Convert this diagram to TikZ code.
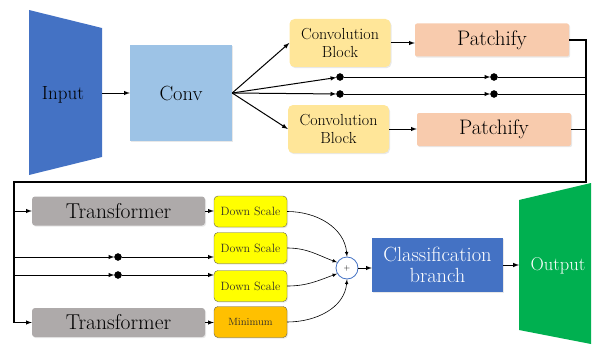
\documentclass[tikz,border=0pt]{standalone}
\usepackage{tikz}
\usetikzlibrary{                          % TikZ libraries
                shapes,                   % .
                arrows,                   % .
                calc,                     % .
                shadows}
\usepackage{xcolor}

\definecolor{inblue}{HTML}{4472C4}
\definecolor{convblue}{HTML}{9DC3E6}
\definecolor{blockyel}{HTML}{FFE699}
\definecolor{patchred}{HTML}{F8CBAD}
\definecolor{transgray}{HTML}{AEAAAA}
\definecolor{downyel}{HTML}{FFFF00}
\definecolor{minorange}{HTML}{FFC000}
\definecolor{outgreen}{HTML}{00B050}

\begin{document}
\begin{tikzpicture}[x=1pt,y=-1pt,>=latex
                    ]
                % define styles
\tikzset{box/.style={rectangle,
                       inner sep=0,
                       align=center,
                       drop shadow={opacity=0.18,shadow xshift=1pt,shadow yshift=-1.2pt},
                       },
         convblock/.style={box,
                       fill=blockyel,
                       rounded corners=5pt,
                       minimum width=101pt,
                       minimum height=48pt,
                       font=\fontsize{16}{18}\selectfont,
                       },
         patch/.style={box,
                       fill=patchred,
                       rounded corners=2pt,
                       minimum width=154pt,
                       minimum height=33pt,
                       font=\fontsize{21}{24}\selectfont,
                       },
         trans/.style={box,
                       fill=transgray,
                       rounded corners=3pt,
                       minimum width=173pt,
                       minimum height=29pt,
                       font=\fontsize{21.5}{24}\selectfont,
                       },
         down/.style={box,
                       fill=downyel,
                       draw=black!70!yellow,
                       rounded corners=4pt,
                       minimum width=73pt,
                       minimum height=31pt,
                       text=black!85!olive,
                       font=\fontsize{12}{14}\selectfont,
                       },
         joint/.style={circle,
                       draw=black,
                       fill=black,
                       inner sep=0,
                       minimum size=7pt,
                       },
         wire/.style={line width=1pt},
         thin wire/.style={line width=0.6pt}
}

\useasboundingbox (0,0) rectangle (594,345);

% input and output
\fill[inblue] (29,10) -- (102,28) -- (102,157) -- (29,175) -- cycle;
\node[font=\fontsize{19}{22}\selectfont] (input) at (63,95) {Input};
\coordinate (input-e) at (102,93);

\fill[outgreen] (519,200) -- (591,183) -- (591,344) -- (519,330) -- cycle;
\node[font=\fontsize{18.5}{22}\selectfont,text=white] (output) at (558,266) {Output};
\coordinate (output-w) at (519,265);

% nodes, upper part
\node[box,fill=convblue,minimum width=102pt,minimum height=96pt,
      font=\fontsize{20.5}{24}\selectfont] (conv) at (181,93) {Conv};

\node[convblock] (cb1) at (340,43)    {Convolution\\Block};
\node[convblock] (cb2) at (338.5,129) {Convolution\\Block};
\node[patch]     (pat1) at (492,40)   {Patchify};
\node[patch]     (pat2) at (494,129.5) {Patchify};

\node[joint] (a1) at (340,77) {};
\node[joint] (a2) at (494,77) {};
\node[joint] (b1) at (340,94) {};
\node[joint] (b2) at (494,94) {};

\coordinate (bus-t)  at (586,40);
\coordinate (bus-b)  at (586,182);
\coordinate (left-t) at (14,182);
\coordinate (left-b) at (14,322.5);

% nodes, lower part
\node[trans] (tr1) at (118.5,211)   {Transformer};
\node[trans] (tr2) at (118.5,322.5) {Transformer};

\node[down] (ds1) at (250.5,211.5) {Down Scale};
\node[down] (ds2) at (250.5,248)   {Down Scale};
\node[down] (ds3) at (250.5,286)   {Down Scale};
\node[down,fill=minorange,font=\fontsize{10.5}{12}\selectfont] (mini) at (250.5,322) {Minimum};

\node[joint] (c1) at (118,257) {};
\node[joint] (d1) at (118,275) {};

\node[circle,draw=inblue,fill=white,line width=0.8pt,minimum size=22pt,inner sep=0,
      font=\fontsize{8}{9}\selectfont] (plus) at (347,268) {+};

\node[box,fill=inblue,text=white,minimum width=131pt,minimum height=54pt,
      font=\fontsize{20.5}{21}\selectfont] (cls) at (437.5,265) {Classification\\branch};

% upper connectors
\draw[->,wire] (input-e) -- (input-e -| conv.west);
\draw[->,wire] (conv.east) -- (cb1.west);
\draw[->,wire] (conv.east) -- (a1);
\draw[->,wire] (conv.east) -- (b1);
\draw[->,wire] (conv.east) -- (cb2.west);
\draw[->,wire] (cb1.east |- 0,43) -- (pat1.west |- 0,43);
\draw[->,wire] (cb2.east) -- (cb2.east -| pat2.west);
\draw[->,wire] (a1) -- (a2);
\draw[->,wire] (b1) -- (b2);
\draw[wire] (a2) -- (a2 -| bus-t);
\draw[wire] (b2) -- (b2 -| bus-t);
\draw[wire] (pat2.east) -- (pat2.east -| bus-t);

% feedback bus
\draw[line width=1.6pt,line join=miter] (pat1.east) -- (bus-t) -- (bus-b) -- (left-t) -- (left-b);

% lower connectors
\draw[->,wire] (left-t |- tr1) -- (tr1.west);
\draw[->,wire] (left-t |- c1) -- (c1);
\draw[->,wire] (left-t |- d1) -- (d1);
\draw[->,wire] (left-b) -- (tr2.west);
\draw[->,wire] (c1) -- (c1 -| ds2.west);
\draw[->,wire] (d1) -- (d1 -| ds3.west);
\draw[->,wire] (tr1.east) -- (tr1.east -| ds1.west);
\draw[->,wire] (tr2.east) -- (tr2.east -| mini.west);

\draw[->,thin wire] (ds1.east) to[out=0,in=95]   (plus.north);
\draw[->,thin wire] (ds2.east) to[out=0,in=160]  (plus.150);
\draw[->,thin wire] (ds3.east) to[out=0,in=200]  (plus.210);
\draw[->,thin wire] (mini.east) to[out=0,in=-95] (plus.south);

\draw[->,wire] (plus) -- (plus -| cls.west);
\draw[->,wire] (cls.east |- output-w) -- (output-w);

\end{tikzpicture}
\end{document}
